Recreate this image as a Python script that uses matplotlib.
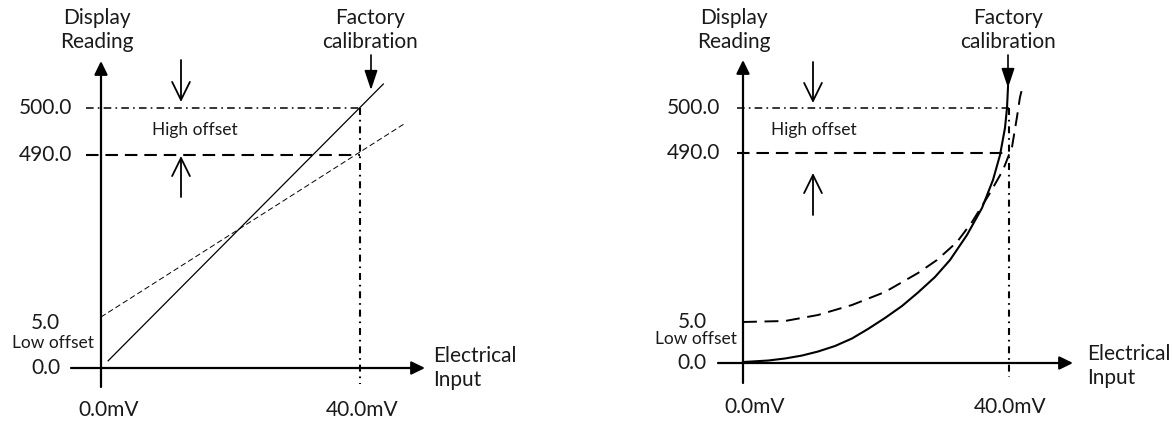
import numpy as np
import matplotlib.pyplot as plt

plt.rcParams['font.family'] = ['Lato', 'DejaVu Sans']
plt.rcParams['lines.scale_dashes'] = False

W, H = 1174, 423
INK = '#1a1a1a'

# display reading levels marked on the y axis
levels = [0.0, 5.0, 490.0, 500.0]
level_labels = ['0.0', '5.0', '490.0', '500.0']
input_labels = ['0.0mV', '40.0mV']

# left: linear sensor, factory line and offset-corrected line (mV, reading)
lin_factory_mv = [1.1, 43.6]
lin_factory_rd = [0.8, 505.1]
lin_offset_mv = [0.0, 46.8]
lin_offset_rd = [22.3, 496.6]

# right: non-linear sensor
nl_factory_mv = [0.0, 3.76, 6.32, 8.87, 11.28, 13.83, 16.39, 18.80, 21.35,
                 23.91, 26.32, 28.87, 31.13, 33.68, 35.94, 37.59, 38.65,
                 39.40, 39.70, 39.85]
nl_factory_rd = [0.12, 0.30, 0.55, 0.91, 1.40, 2.07, 2.99, 4.15, 16.5,
                 50.9, 89.7, 134.1, 182.9, 254.7, 332.2, 412.5, 484.3,
                 495.6, 500.0, 504.7]
nl_offset_mv = [0.0, 6.32, 11.28, 16.39, 21.35, 26.32, 29.17, 32.18, 34.44,
                37.14, 39.10, 40.45, 41.20, 41.65, 42.11]
nl_offset_rd = [5.0, 7.9, 25.1, 53.8, 91.1, 145.6, 182.9, 234.6, 292.0,
                375.2, 441.2, 491.3, 498.0, 502.4, 505.1]


def schematic_scale(heights):
    # diagram is not to scale: piecewise mapping of reading -> height
    lv = np.array(levels)
    hv = np.array(heights, float)
    lo = hv[1] / lv[1]
    hi = (hv[3] - hv[2]) / (lv[3] - lv[2])

    def fwd(v):
        v = np.asarray(v, float)
        h = np.interp(v, lv, hv)
        h = np.where(v < lv[0], v * lo, h)
        return np.where(v > lv[-1], hv[-1] + (v - lv[-1]) * hi, h)

    def inv(h):
        h = np.asarray(h, float)
        v = np.interp(h, hv, lv)
        v = np.where(h < hv[0], h / lo, v)
        return np.where(h > hv[-1], lv[-1] + (h - hv[-1]) / hi, v)

    return fwd, inv


def panel(px0, px1, L):
    ax = fig.add_axes([px0 / W, 0, (px1 - px0) / W, 1])
    sx = (L['x40'] - L['ox']) / 40.0
    ax.set_xlim((px0 - L['ox']) / sx, (px1 - L['ox']) / sx)
    fwd, inv = schematic_scale(L['heights'])
    ax.set_yscale('function', functions=(fwd, inv))
    ax.set_ylim(float(inv(L['oy'] - H)), float(inv(L['oy'])))
    ax.axis('off')

    def mv(px):
        return (px - L['ox']) / sx

    def rd(py):
        return float(inv(L['oy'] - py))

    # axes with arrow heads
    head = dict(arrowstyle='-|>,head_length=0.45,head_width=0.22', color='k',
                lw=1.6, mutation_scale=18, shrinkA=0, shrinkB=0)
    ax.annotate('', xy=(0, rd(L['ytip'])), xytext=(0, rd(L['ybot'])), arrowprops=head)
    ax.annotate('', xy=(mv(L['xtip']), 0), xytext=(mv(L['xleft']), 0), arrowprops=head)

    # reference lines
    ax.plot([mv(L['hstart']), 40], [levels[3], levels[3]], color='k', lw=1.1,
            linestyle=(0, (5.5, 3.0, 1.2, 3.0)))
    ax.plot([mv(L['hstart']), 40], [levels[2], levels[2]], color='k', lw=1.5,
            linestyle=(0, (9.0, 5.0)))
    ax.plot([40, 40], [levels[3], rd(L['vbot'])], color='k', lw=1.5,
            linestyle=(0, (5.0, 3.5, 1.2, 3.5)))

    # offset arrows
    opn = dict(arrowstyle='->,head_length=0.65,head_width=0.32', color='k',
               lw=1.3, mutation_scale=20, shrinkA=0, shrinkB=0)
    ax.annotate('', xy=(mv(L['ax']), rd(L['dn'][1])), xytext=(mv(L['ax']), rd(L['dn'][0])),
                arrowprops=opn)
    ax.annotate('', xy=(mv(L['ax']), rd(L['up'][1])), xytext=(mv(L['ax']), rd(L['up'][0])),
                arrowprops=opn)
    fac = dict(arrowstyle='-|>,head_length=0.6,head_width=0.2', color='k',
               lw=1.2, mutation_scale=20, shrinkA=0, shrinkB=0)
    ax.annotate('', xy=(mv(L['fx']), rd(L['fac'][1])), xytext=(mv(L['fx']), rd(L['fac'][0])),
                arrowprops=fac)

    big = 15
    small = 12.5
    tk = dict(color=INK, fontsize=big, va='center')
    ax.text(mv(L['disp'][0]), rd(L['disp'][1]), 'Display\nReading', ha='center',
            linespacing=1.2, **tk)
    ax.text(mv(L['facx']), rd(L['disp'][1]), 'Factory\ncalibration', ha='center',
            linespacing=1.2, **tk)
    for v, lab in zip(levels, level_labels):
        xr = L['lab_hi'] if v > 100 else L['lab_lo']
        ax.text(mv(xr), v, lab, ha='right', **tk)
    ax.text(mv(L['low'][0]), rd(L['low'][1]), 'Low offset', ha='right', color=INK,
            fontsize=small, va='center')
    ax.text(mv(L['high'][0]), rd(L['high'][1]), 'High offset', ha='center', color=INK,
            fontsize=small, va='center')
    for xc, lab in zip(L['mvx'], input_labels):
        ax.text(mv(xc), rd(L['mvy']), lab, ha='center', **tk)
    ax.text(mv(L['elec'][0]), rd(L['elec'][1]), 'Electrical\nInput', ha='left',
            linespacing=1.2, **tk)
    return ax


fig = plt.figure(figsize=(W / 100, H / 100), dpi=100)

left = dict(ox=101, oy=368, x40=360, heights=[0, 45, 213, 260],
            ytip=61, ybot=387, xtip=425, xleft=71, hstart=86, vbot=384,
            ax=181, dn=(60, 102), up=(197, 156), fx=371, fac=(55, 90),
            disp=(97, 30), facx=370, lab_hi=72, lab_lo=60, low=(94, 343),
            high=(195, 130), mvx=(109, 362), mvy=410, elec=(433, 368))
right = dict(ox=743, oy=363, x40=1009, heights=[0, 41, 210, 255],
             ytip=60, ybot=383, xtip=1073, xleft=718, hstart=737, vbot=377,
             ax=813, dn=(62, 103), up=(215, 173), fx=1008, fac=(55, 88),
             disp=(734, 30), facx=1008, lab_hi=720, lab_lo=707, low=(737, 339),
             high=(814, 130), mvx=(755, 1010), mvy=407, elec=(1087, 366))

axl = panel(0, 587, left)
axl.plot(lin_factory_mv, lin_factory_rd, color='k', lw=0.9)
axl.plot(lin_offset_mv, lin_offset_rd, color='k', lw=0.7, linestyle=(0, (4.0, 2.2)))

axr = panel(587, W, right)
axr.plot(nl_factory_mv, nl_factory_rd, color='k', lw=1.5)
axr.plot(nl_offset_mv, nl_offset_rd, color='k', lw=1.4, linestyle=(0, (10.0, 5.5)))

fig.savefig('out.png', dpi=100)
